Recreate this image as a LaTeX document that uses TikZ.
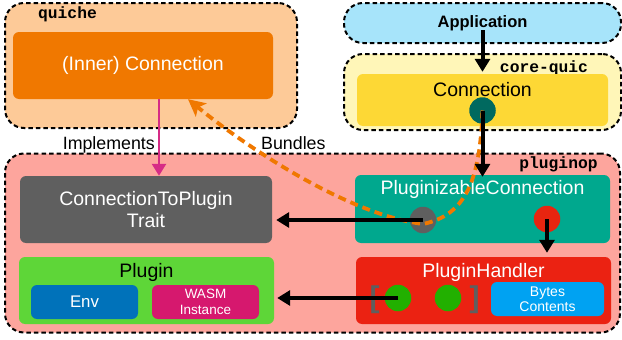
\documentclass[tikz,border=0pt]{standalone}
\usepackage{fontspec}
\setmainfont{Liberation Sans}
\newfontfamily\monob{Liberation Mono}
\usetikzlibrary{arrows.meta}
\definecolor{cQuiche}{HTML}{FDCA98}
\definecolor{cInner}{HTML}{F07800}
\definecolor{cApp}{HTML}{A7E4FA}
\definecolor{cCore}{HTML}{FFF6B8}
\definecolor{cConn}{HTML}{FDD835}
\definecolor{cTeal}{HTML}{00695F}
\definecolor{cPlugOp}{HTML}{FDA59D}
\definecolor{cGrey}{HTML}{5F5F5F}
\definecolor{cPlugin}{HTML}{5ED638}
\definecolor{cEnv}{HTML}{0072BA}
\definecolor{cWasm}{HTML}{D6186E}
\definecolor{cPC}{HTML}{00A88E}
\definecolor{cRedDot}{HTML}{E82510}
\definecolor{cHandler}{HTML}{EB2212}
\definecolor{cGreen}{HTML}{22B000}
\definecolor{cBytes}{HTML}{00A2F2}
\definecolor{cMag}{HTML}{D62C86}
\begin{document}
\begin{tikzpicture}[x=1pt,y=-1pt,
  container/.style={draw=black, dash pattern=on 4.5pt off 3pt, line width=2pt, rounded corners=19pt, inner sep=0pt},
  box/.style={rounded corners=6pt, inner sep=0pt, align=center},
  dot/.style={circle, minimum size=26.5pt, inner sep=0pt},
  big/.style={font=\fontsize{19.5}{22}\selectfont},
  mono/.style={font=\monob\bfseries\fontsize{16.3}{18}\selectfont, anchor=base, inner sep=0pt},
  lbl/.style={font=\fontsize{17.8}{20}\selectfont, anchor=base, inner sep=0pt},
  blk/.style={-{Triangle[width=15pt,length=13pt]}, line width=4pt},
  magarrow/.style={-{Triangle[width=14pt,length=12pt]}, line width=2.6pt, draw=cMag},
  orangedash/.style={-{Stealth[width=17pt,length=17pt,inset=4pt]}, line width=3.8pt, draw=cInner, dash pattern=on 8pt off 5pt},
  brk/.style={font=\bfseries\fontsize{30}{30}\selectfont, text=cGrey, inner sep=0pt}
]
\useasboundingbox (0,0) rectangle (622,340);
% containers
\node[container, fill=cQuiche, minimum width=292pt, minimum height=125pt] (quiche) at (151,65.5) {};
\node[container, fill=cApp, minimum width=277pt, minimum height=40pt, font=\bfseries\fontsize{16.5}{18}\selectfont] (app) at (482.5,23) {Application};
\node[container, fill=cCore, minimum width=277pt, minimum height=76pt] (core) at (482.5,92) {};
\node[container, fill=cPlugOp, minimum width=615pt, minimum height=179pt] (plugop) at (312.5,243) {};
\node[mono] (quichelbl) at (67.5,19) {quiche};
\node[mono] (corelbl) at (544,72) {core-quic};
\node[mono] (plugoplbl) at (558.5,168) {pluginop};
% boxes
\node[box, fill=cInner, minimum width=260pt, minimum height=67pt, big, text=white] (inner) at (143,65.5) {(Inner) Connection};
\node[box, fill=cConn, minimum width=251pt, minimum height=52pt] (conn) at (482.5,100) {};
\node[big, anchor=base, inner sep=0pt] (conntxt) at (482.5,96) {Connection};
\node[dot, fill=cTeal] (teal) at (482.5,110.5) {};
\node[box, fill=cGrey, minimum width=252pt, minimum height=67pt, big, text=white] (ctp) at (146,209.5) {ConnectionToPlugin\\[-0.5pt]Trait};
\node[box, fill=cPlugin, minimum width=255pt, minimum height=67pt] (plugin) at (146.5,290.5) {};
\node[big, anchor=base, inner sep=0pt] (plugintxt) at (146.5,277) {Plugin};
\node[box, fill=cEnv, minimum width=107pt, minimum height=34pt, text=white, font=\fontsize{16.8}{18}\selectfont] (env) at (84.5,302) {Env};
\node[box, fill=cWasm, minimum width=107pt, minimum height=34pt, text=white, font=\fontsize{13.5}{16}\selectfont] (wasm) at (205.5,302) {WASM\\Instance};
\node[box, fill=cPC, minimum width=255pt, minimum height=68pt] (pc) at (482.5,209) {};
\node[big, anchor=base, inner sep=0pt, text=white] (pctxt) at (482.5,194) {PluginizableConnection};
\node[dot, fill=cGrey] (grey) at (423,220) {};
\node[dot, fill=cRedDot] (red) at (547,219) {};
\node[box, fill=cHandler, minimum width=255pt, minimum height=67pt] (handler) at (483.5,290.5) {};
\node[big, anchor=base, inner sep=0pt, text=white] (handlertxt) at (483.5,277) {PluginHandler};
\node[brk] (lbrk) at (374.5,300) {[};
\node[brk] (rbrk) at (474.5,300) {]};
\node[dot, fill=cGreen] (g1) at (398,298) {};
\node[dot, fill=cGreen] (g2) at (448,298) {};
\node[box, fill=cBytes, minimum width=113pt, minimum height=34pt, text=white, font=\fontsize{14}{15}\selectfont] (bytes) at (547.5,299) {Bytes\\Contents};
% labels
\node[lbl, anchor=base east] (impl) at (155,149) {Implements};
\node[lbl, anchor=base west] (bund) at (261,149) {Bundles};
% connectors
\draw[orangedash] (teal.center) .. controls (480,180) and (466,215) .. ([yshift=-4pt]grey.center) .. controls (350,215) and (250,150) .. ([xshift=45pt]inner.south);
\draw[magarrow] ([xshift=16pt]inner.south) -- ([xshift=13pt]ctp.north);
\draw[blk, shorten >=2pt] ([yshift=-7pt]app.center) -- (conn.north);
\draw[blk, shorten >=-2pt] (teal.center) -- (pc.north);
\draw[blk, shorten >=4pt] (grey.center) -- (ctp.east |- grey.center);
\draw[blk, shorten >=3pt] (g1.center) -- (plugin.east |- g1.center);
\draw[blk, shorten >=4pt] (red.center) -- (red.center |- handler.north);
\end{tikzpicture}
\end{document}
